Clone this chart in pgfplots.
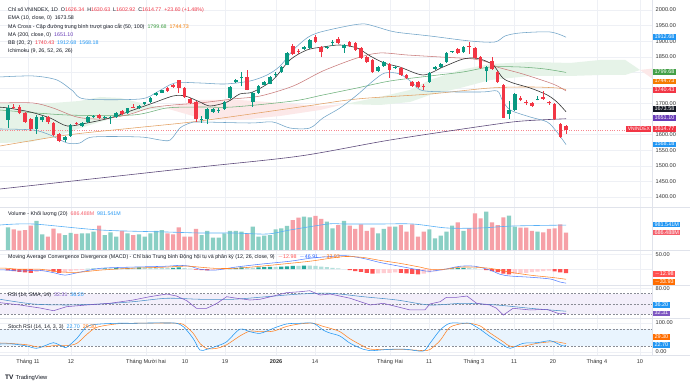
\documentclass[border=0pt]{standalone}
\usepackage{fontspec}
\setmainfont{Liberation Sans}
\usepackage{pgfplots}
\pgfplotsset{compat=1.18}
\usepackage{pgfplotstable}

\definecolor{tvgreen}{HTML}{089981}
\definecolor{tvred}{HTML}{F23645}
\definecolor{tvblue}{HTML}{2196F3}
\definecolor{tvorange}{HTML}{FF6D00}
\definecolor{tvpurple}{HTML}{7E57C2}
\definecolor{volg}{HTML}{8ACFC4}
\definecolor{volr}{HTML}{F6A0A7}
\definecolor{hdg}{HTML}{26A69A}
\definecolor{hlg}{HTML}{B2DFDB}
\definecolor{hdr}{HTML}{FF5252}
\definecolor{hlr}{HTML}{FFCDD2}
\definecolor{emac}{HTML}{333333}
\definecolor{bbband}{HTML}{6FA3C7}
\definecolor{bbbasis}{HTML}{C97B7B}
\definecolor{ma50}{HTML}{6DB07A}
\definecolor{ma100}{HTML}{E3A062}
\definecolor{ma200}{HTML}{5E4B7B}
\definecolor{ma50t}{HTML}{43A047}
\definecolor{ma100t}{HTML}{F57C00}
\definecolor{ma200t}{HTML}{673AB7}
\definecolor{cloudg}{HTML}{E6F3E8}
\definecolor{cloudr}{HTML}{FCE8E8}
\definecolor{gridc}{HTML}{EEF0F5}
\definecolor{sepc}{HTML}{E0E3EB}
\definecolor{axtext}{HTML}{333333}
\definecolor{txt}{HTML}{131722}
\definecolor{rsibg}{HTML}{F3EFFA}
\definecolor{stbg}{HTML}{E9F4FE}
\definecolor{macdb}{HTML}{2962FF}
\definecolor{rsima}{HTML}{4A90C8}
\definecolor{dashc}{HTML}{8A8D96}

% green candles: index open high low close volume(M)
\pgfplotstableread{
i o h l c v
0 1647 1695 1621 1686 894
5 1618 1662 1602 1657 1139
6 1648 1660 1640 1657 624
10 1583 1596 1578 1593 598
11 1596 1635 1594 1631 676
13 1628 1640 1625 1638 663
14 1641 1659 1639 1657 663
15 1657 1664 1652 1660 727
17 1655 1660 1650 1658 598
18 1652 1660 1635 1656 701
19 1657 1673 1655 1671 534
21 1669 1687 1667 1685 663
23 1685 1694 1683 1692 624
24 1698 1706 1696 1704 534
25 1705 1721 1703 1719 663
26 1727 1736 1724 1734 753
27 1735 1744 1733 1742 791
34 1648 1660 1638 1651 598
35 1650 1685 1634 1682 753
36 1673 1684 1670 1682 495
37 1677 1686 1670 1680 495
38 1682 1708 1680 1705 663
39 1717 1756 1715 1753 753
40 1768 1779 1765 1774 753
41 1782 1800 1755 1785 727
43 1705 1736 1689 1734 920
44 1734 1758 1732 1756 534
45 1760 1771 1758 1769 573
46 1763 1787 1761 1785 598
47 1790 1800 1785 1795 817
48 1801 1819 1799 1817 856
49 1824 1864 1822 1862 946
52 1876 1884 1872 1880 1306
53 1878 1906 1876 1904 1280
56 1878 1884 1876 1881 1113
57 1895 1905 1885 1898 856
59 1878 1890 1862 1888 1139
65 1804 1819 1802 1817 663
66 1820 1835 1818 1833 830
68 1814 1819 1812 1817 920
74 1769 1800 1767 1798 817
75 1811 1819 1809 1817 470
76 1817 1829 1815 1827 573
77 1833 1864 1831 1862 727
78 1865 1870 1863 1868 959
80 1865 1883 1863 1881 753
84 1804 1819 1769 1817 1499
88 1667 1708 1650 1679 1344
89 1679 1733 1677 1731 920
93 1713 1724 1710 1716 727
}\gtab

% red candles
\pgfplotstableread{
i o h l c v
1 1690 1700 1683 1686 817
2 1689 1695 1665 1670 766
3 1670 1672 1638 1641 791
4 1650 1653 1612 1618 959
7 1657 1660 1635 1641 534
8 1638 1641 1595 1599 843
9 1602 1604 1575 1580 663
12 1637 1642 1630 1633 637
16 1663 1666 1650 1652 959
20 1676 1678 1663 1666 753
22 1689 1700 1684 1686 598
28 1749 1752 1738 1740 663
29 1758 1762 1750 1754 624
30 1774 1776 1734 1750 894
31 1750 1752 1718 1721 534
32 1715 1717 1699 1702 534
33 1705 1707 1641 1650 830
42 1784 1808 1742 1744 663
50 1884 1892 1855 1859 1177
51 1870 1875 1860 1865 1267
54 1913 1920 1895 1897 1332
55 1881 1883 1849 1865 1216
58 1907 1912 1892 1894 984
60 1897 1899 1882 1884 959
61 1894 1896 1870 1872 830
62 1878 1880 1843 1846 1010
63 1849 1851 1830 1833 753
64 1840 1842 1798 1801 881
67 1827 1829 1782 1807 920
69 1814 1816 1789 1792 984
70 1792 1794 1780 1782 727
71 1769 1771 1754 1756 1010
72 1769 1771 1751 1753 534
73 1757 1762 1744 1754 727
79 1875 1878 1860 1862 1087
81 1884 1897 1859 1881 856
82 1878 1880 1844 1846 1435
83 1849 1851 1812 1814 1242
85 1836 1849 1809 1811 1087
86 1801 1803 1767 1769 984
87 1759 1761 1652 1654 1280
90 1718 1724 1707 1711 881
91 1705 1711 1695 1702 881
92 1702 1704 1690 1692 753
94 1721 1740 1712 1714 701
95 1705 1708 1696 1702 830
96 1699 1701 1648 1650 856
97 1634 1636 1589 1591.17 1010
98 1626.34 1630.63 1602.92 1614.77 686.488
}\rtab

\pgfplotsset{
  tvpane/.style={
    scale only axis, width=652pt, xmin=-1.405, xmax=113.1,
    anchor=north west,
    axis line style={draw=none}, major tick length=0pt,
    xtick={3.51,11.06,24.24,31.09,38.11,47.07,53.92,67.09,73.94,81.84,88.87,95.71,103.44,110.99},
    xticklabels={},
    xmajorgrids, ymajorgrids,
    grid style={color=gridc, line width=0.4pt},
    yticklabel pos=right,
    yticklabel style={anchor=west, inner sep=0pt, xshift=3.5pt,
      font=\fontsize{5.6}{6}\selectfont, text=axtext},
    xticklabel style={anchor=north, inner sep=0pt, yshift=-4.3pt,
      font=\fontsize{5.6}{6}\selectfont, text=axtext},
  },
}
\tikzset{
  tvbox/.style={anchor=west, inner xsep=1.3pt, inner ysep=0pt, text height=4.3pt, text depth=1.3pt,
    font=\fontsize{5.5}{6}\selectfont, text=white},
  leg/.style={anchor=west, inner sep=0pt, font=\fontsize{5.3}{6}\selectfont, text=txt},
}

\begin{document}
\begin{tikzpicture}
\fill[white] (0pt,0pt) rectangle (690pt,-385pt);

% ================= MAIN PRICE PANE =================
\begin{axis}[tvpane, at={(0pt,0pt)}, height=207pt,
  ymin=1368, ymax=2032,
  ytick={1400,1450,1500,1550,1600,1650,1700,1750,1800,1850,1900,1950,2000},
  yticklabels={1400.00,1450.00,1500.00,1550.00,1600.00,,1700.00,,,1850.00,1900.00,1950.00,2000.00}]
% Ichimoku cloud
\addplot[fill=cloudg, draw=none] coordinates {(-1.4,1701.7)(5.6,1698.4)(12.6,1708.1)(16.2,1720.9)(19.7,1717.7)(24.1,1698.4)(27.6,1685.6)(24.1,1679.2)(19.7,1660.0)(14.4,1631.1)(9.1,1599.0)(3.9,1576.5)(-1.4,1573.3)} -- cycle;
\addplot[fill=cloudr, draw=none] coordinates {(27.6,1685.6)(33.7,1711.3)(40.7,1711.3)(47.8,1701.7)(54.8,1692.0)(59.2,1698.4)(54.8,1679.2)(47.8,1660.0)(40.7,1647.1)(33.7,1653.5)} -- cycle;
\addplot[fill=cloudg, draw=none] coordinates {(59.2,1698.4)(65.3,1720.9)(70.6,1743.4)(74.1,1775.4)(79.4,1807.5)(84.7,1826.8)(91.7,1833.2)(98.7,1830.0)(104,1839.6)(108.4,1839.6)(111,1807.5)(108.4,1791.5)(104,1791.5)(98.7,1788.3)(91.7,1788.3)(84.7,1775.4)(79.4,1749.8)(74.1,1727.3)(70.6,1704.9)(65.3,1695.2)} -- cycle;
\addplot[fill=cloudr, draw=none] coordinates {(111,1807.5)(114,1813.9)(114,1769.0)} -- cycle;
% price line
\addplot[tvred!60, dotted, line width=0.4pt] coordinates {(-1.405,1614.77)(113.1,1614.77)};
% MA200
\addplot[ma200, line width=0.6pt, smooth] coordinates {(-1.4,1425.8)(16.2,1461.1)(33.7,1496.4)(51.3,1531.6)(67.1,1582.9)(84.7,1631.1)(90.4,1643.9)(98,1651.10)};
% MA100
\addplot[ma100, line width=0.55pt, smooth] coordinates {(-1.4,1563.7)(10.4,1599.0)(22,1621.4)(33.7,1643.9)(51.3,1688.8)(61.3,1714.5)(74.1,1730.5)(84.7,1749.8)(91.7,1753.0)(96.4,1749.8)(98,1744.73)};
% MA50
\addplot[ma50, line width=0.55pt, smooth] coordinates {(-1.4,1679.2)(10.4,1663.2)(22,1663.2)(27.9,1685.6)(33.7,1688.8)(39.5,1688.8)(50.1,1708.1)(55.3,1727.3)(61.3,1749.8)(67.1,1772.2)(74.1,1788.3)(79.9,1801.1)(84.7,1817.1)(89.9,1817.1)(94.3,1810.7)(98,1799.68)};
% BB basis
\addplot[bbbasis, line width=0.55pt, smooth] coordinates {(-1.4,1701.7)(4.4,1701.7)(7.9,1685.6)(12.1,1656.7)(16.2,1650.3)(20.9,1663.2)(24.9,1685.6)(29,1695.2)(33.7,1701.7)(39.5,1714.5)(44.3,1724.1)(50.1,1756.2)(55.3,1804.3)(61.3,1846.0)(65.3,1862.1)(70.1,1855.6)(75.9,1849.2)(81.7,1842.8)(84.7,1829.9)(85.9,1817.1)(90.4,1794.7)(95.7,1762.6)(98,1740.43)};
% BB upper
\addplot[bbband, line width=0.55pt, smooth] coordinates {(-1.4,1785.1)(4.4,1788.3)(8.6,1775.4)(11.4,1740.2)(13.5,1714.5)(23.2,1714.5)(26.2,1736.9)(29.3,1765.8)(33.7,1765.8)(38.1,1762.6)(42.5,1772.2)(45.5,1791.5)(47.8,1820.4)(50.1,1871.7)(52.5,1910.2)(54.3,1926.2)(57.1,1939.0)(60.6,1951.9)(62.7,1955.1)(64.8,1945.5)(68,1929.4)(74.1,1916.6)(81.1,1900.6)(85.5,1897.3)(87.3,1916.6)(89.9,1926.2)(95.2,1929.4)(98,1912.68)};
% BB lower
\addplot[bbband, line width=0.55pt, smooth] coordinates {(-1.4,1618.2)(4.4,1615.0)(7.4,1599.0)(10.4,1573.3)(12.6,1573.3)(14.9,1592.6)(23.2,1592.6)(26.7,1583.0)(28.5,1583.0)(30.2,1621.4)(32,1637.5)(33.7,1640.7)(42.5,1637.5)(46.5,1640.7)(49.5,1621.4)(53,1621.4)(55.3,1653.5)(58.3,1685.6)(61.3,1727.3)(64.1,1772.2)(66.2,1797.9)(68.8,1794.7)(71.1,1765.8)(73.2,1740.2)(82.9,1736.9)(85.9,1740.2)(86.8,1711.3)(88.2,1679.2)(91.7,1656.7)(94.7,1640.7)(96.4,1608.6)(98,1568.18)};
% EMA 10
\addplot[emac, line width=0.6pt, smooth] coordinates {(-1.4,1688)(0,1685.6)(3.9,1672.8)(7.4,1653.5)(10.4,1627.9)(13.9,1637.5)(17.9,1653.5)(22,1679.2)(25.5,1701.7)(29,1724.1)(31.1,1724.1)(33.7,1704.9)(35.5,1692.0)(38.5,1704.9)(40.7,1730.5)(43,1736.9)(46.5,1775.4)(49.5,1839.6)(52.5,1871.7)(55.3,1881.3)(58.3,1887.7)(61.3,1878.1)(63.6,1852.4)(66.2,1829.0)(68.8,1817.1)(72.9,1791.5)(76.4,1817.1)(79.4,1839.6)(81.1,1846.0)(82.9,1842.8)(85.2,1823.6)(86.9,1781.9)(88.7,1765.8)(91.7,1749.8)(94.7,1727.3)(96.4,1704.9)(98,1673.58)};
% candles
\addplot[tvgreen, line width=0.7pt, quiver={u=0, v=\thisrow{h}-\thisrow{l}}] table[x=i, y=l] {\gtab};
\addplot[tvgreen, line width=3.6pt, quiver={u=0, v=\thisrow{c}-\thisrow{o}}] table[x=i, y=o] {\gtab};
\addplot[tvred, line width=0.7pt, quiver={u=0, v=\thisrow{h}-\thisrow{l}}] table[x=i, y=l] {\rtab};
\addplot[tvred, line width=3.6pt, quiver={u=0, v=\thisrow{c}-\thisrow{o}}] table[x=i, y=o] {\rtab};
\end{axis}

% ================= VOLUME PANE =================
\begin{axis}[tvpane, at={(0pt,-207pt)}, height=43.5pt, ymin=0, ymax=1679, ytick=\empty]
\addplot[ybar, bar width=4.2pt, bar shift=0pt, fill=volg, draw=none] table[x=i, y=v] {\gtab};
\addplot[ybar, bar width=4.2pt, bar shift=0pt, fill=volr, draw=none] table[x=i, y=v] {\rtab};
\addplot[tvblue!75, line width=0.6pt, smooth] coordinates {(-1.4,984)(4.4,1023)(16.2,791)(27.9,714)(33.7,676)(39.5,676)(45.5,637)(49.5,791)(56.2,1023)(59.2,1023)(65.3,1023)(71.1,1023)(77.1,869)(82.9,869)(88.7,946)(98,981.541)};
\end{axis}

% ================= MACD PANE =================
\begin{axis}[tvpane, at={(0pt,-250.5pt)}, height=34.5pt, ymin=-53.3, ymax=63.3,
  ytick={0,50}, yticklabels={,50.00}]
\addplot[ybar, bar width=4.2pt, bar shift=0pt, fill=hdr, draw=none] coordinates {(0,-4)(1,-6)(2,-9)(3,-11)(4,-12)(8,-8)(9,-12)(33,-1)(34,-3)(35,-4)(60,-3)(61,-6)(62,-9)(63,-12)(64,-15)(69,-12)(70,-14)(71,-16)(72,-17)(84,-3)(85,-6)(86,-10)(87,-15)(88,-17)(96,-7)(97,-11)(98,-12.98)};
\addplot[ybar, bar width=4.2pt, bar shift=0pt, fill=hlr, draw=none] coordinates {(5,-9)(6,-6)(7,-5)(10,-11)(11,-7)(12,-4)(13,-2)(36,-3)(37,-2)(38,-1)(65,-14)(66,-13)(67,-12)(68,-11)(73,-15)(74,-11)(75,-7)(76,-4)(89,-16)(90,-14)(91,-12)(92,-10)(93,-8)(94,-6)(95,-5)};
\addplot[ybar, bar width=4.2pt, bar shift=0pt, fill=hdg, draw=none] coordinates {(14,1)(15,2)(17,3)(19,4)(21,5)(23,6)(29,5)(30,6)(39,2)(40,4)(41,6)(44,6)(45,7)(46,8)(48,9)(49,10)(50,11)(52,12)(77,0.5)(78,3)(79,4)(80,5)};
\addplot[ybar, bar width=4.2pt, bar shift=0pt, fill=hlg, draw=none] coordinates {(16,2)(18,3)(20,4)(22,5)(24,6)(25,6)(26,5)(27,5)(28,4)(31,4)(32,2)(42,5)(43,5)(47,8)(51,11)(53,12)(54,11)(55,9)(56,7)(57,5)(58,3)(59,0.5)(81,5)(82,3)(83,0.5)};
\addplot[macdb!80, line width=0.55pt, smooth] coordinates {(-1.4,-2)(0,-3)(2.1,-6)(5.6,-4)(8.3,-13)(10,-20)(12.6,-10)(16.2,3)(21.4,7)(27.6,10)(30.2,13)(32,10)(33.7,0)(36.4,-3)(39.9,7)(44.3,17)(49.5,27)(53,37)(56.6,43)(59.2,46)(62.3,37)(65.3,23)(68.8,10)(72.4,-3)(74.1,-7)(76.7,0)(79.4,10)(82,10)(84.7,-3)(86.4,-17)(88.2,-23)(91.7,-27)(95.2,-33)(96.9,-43)(98,-46.91)};
\addplot[tvorange!85, line width=0.55pt, smooth] coordinates {(-1.4,4)(0,3)(2.1,0)(5.6,0)(8.3,-7)(10,-10)(12.6,-10)(16.2,-3)(21.4,3)(27.6,7)(30.2,10)(32,10)(33.7,7)(36.4,3)(39.9,3)(44.3,10)(49.5,20)(53,27)(56.6,37)(59.2,43)(62.3,40)(65.3,30)(68.8,20)(72.4,7)(74.1,0)(76.7,0)(79.4,7)(82,7)(84.7,3)(86.4,-3)(88.2,-10)(91.7,-20)(95.2,-27)(96.9,-31)(98,-33.93)};
\end{axis}

% ================= RSI PANE =================
\begin{axis}[tvpane, at={(0pt,-285pt)}, height=33pt, ymin=23.3, ymax=86.2,
  ytick={80}, yticklabels={80.00}]
\addplot[fill=rsibg, draw=none] coordinates {(-1.405,30)(113.1,30)(113.1,70)(-1.405,70)} -- cycle;
\addplot[dashc, dash pattern=on 2pt off 1.5pt, line width=0.35pt] coordinates {(-1.405,70)(113.1,70)};
\addplot[dashc, dash pattern=on 2pt off 1.5pt, line width=0.35pt] coordinates {(-1.405,50)(113.1,50)};
\addplot[dashc, dash pattern=on 2pt off 1.5pt, line width=0.35pt] coordinates {(-1.405,30)(113.1,30)};
\addplot[rsima, line width=0.55pt, smooth] coordinates {(-1.4,59)(4.4,50)(10.3,48.1)(16.2,50)(22,54.4)(27.9,60.9)(33.7,59)(39.5,59)(45.4,63.9)(51.3,69)(56.6,70.4)(62.4,63.9)(68.3,57.6)(74.1,48.1)(79.9,51.3)(85.8,48.1)(91.7,41.8)(98,36.2)};
\addplot[tvpurple, line width=0.55pt] coordinates {(-1.4,52.5)(2.1,48.1)(5.6,42.4)(8,37.2)(10.3,44.9)(13.8,48.1)(17.9,51.3)(22,57.6)(24.9,63.9)(27.9,69)(29.6,65.2)(31.4,56.3)(33.1,41.8)(34.9,41.8)(36.7,51.3)(38.4,63.9)(40.2,60.9)(42.5,57.6)(44.3,59)(46.6,65.2)(48.9,71.5)(51.3,73.4)(53,75.3)(54.8,67.1)(56.6,69)(60.1,60.9)(63.6,48.1)(65.9,51.3)(68.3,44.9)(70.6,38.6)(73.2,38.6)(74.1,50)(75.9,54.4)(77,62.8)(78.8,62.8)(80.6,65.2)(82.3,51.3)(84.6,48.1)(85.8,41.8)(87,29)(88.7,41.8)(91.7,38.6)(94.6,39.9)(96.9,31)(98,32.31)};
\end{axis}

% ================= STOCH RSI PANE =================
\begin{axis}[tvpane, at={(0pt,-318pt)}, height=37pt, ymin=-10.3, ymax=117.2,
  ytick={0,100}, yticklabels={0.00,100.00},
  xticklabels={Tháng 11,12,Tháng Mười hai,10,19,\textbf{2026},14,Tháng Hai,11,Tháng 3,11,20,Tháng 4,10}]
\addplot[fill=stbg, draw=none] coordinates {(-1.405,20)(113.1,20)(113.1,80)(-1.405,80)} -- cycle;
\addplot[dashc, dash pattern=on 2pt off 1.5pt, line width=0.35pt] coordinates {(-1.405,80)(113.1,80)};
\addplot[dashc, dash pattern=on 2pt off 1.5pt, line width=0.35pt] coordinates {(-1.405,20)(113.1,20)};
\addplot[tvorange!85, line width=0.55pt, smooth] coordinates {(-1.4,31)(0,30)(3.3,25)(5,18)(6.8,18)(8,22)(10.3,22)(12.1,30)(13.8,60)(15.6,85)(19.1,97)(22,99)(27.9,100)(29.6,99)(30.8,95)(32.5,65)(33.7,30)(34.9,12)(36.7,13)(38.4,25)(40.7,55)(42.5,72)(44.3,70)(46.6,72)(48.9,88)(51.3,97)(53.6,99)(55.4,88)(56.6,81.7)(58.3,70)(60.1,45)(62.4,20)(63.6,10)(67.1,8)(70,8)(72.9,5)(74.1,8.6)(75.9,40)(77.6,85)(80,99)(81.1,99)(82.9,90)(84.7,65)(87,35)(88.2,20)(90.5,20)(92.9,30)(95.2,35)(96.4,35)(97.5,31)(98,29.3)};
\addplot[tvblue, line width=0.55pt, smooth] coordinates {(-1.4,27.6)(0.9,27.6)(3.3,20.7)(5,12.8)(6.8,24.1)(8,32.1)(9.7,18.3)(10.3,16.2)(12.1,47.2)(13.8,87.2)(15.6,95.5)(19.1,99)(22,99)(24.9,100)(27.9,100)(29.6,99)(30.8,87.2)(32.5,47.2)(33.7,6.9)(34.9,9.3)(36.7,20.7)(38.4,35.5)(40.7,78.3)(42.5,70)(44.3,64.5)(46.6,81.7)(48.9,96.6)(51.3,99)(53.6,99)(55.4,75)(56.6,65)(58.3,55)(60.1,30)(62.4,9.3)(63.6,4.5)(67.1,9.3)(70,9.3)(72.9,3.4)(74.1,30)(75.9,75.9)(77.6,99)(80,99)(81.1,99)(82.9,78.3)(84.7,52.8)(87,24.1)(88.2,12.8)(90.5,30)(92.9,32.1)(95.2,39)(96.4,30)(97.5,20.7)(98,22.7)};
\end{axis}

% ================= separators =================
\foreach \yy in {207,250.5,285,318,355.5} {
  \draw[sepc, line width=0.5pt] (0pt,-\yy pt) -- (690pt,-\yy pt);
}
\draw[sepc, line width=0.5pt] (652pt,0pt) -- (652pt,-355.5pt);

% ================= legends =================
\node[leg] at (8pt,-10pt) {Chỉ số VNINDEX, 1D\hspace{3pt}O{\color{tvred}1626.34}\hspace{3pt}H{\color{tvred}1630.63}\hspace{3pt}L{\color{tvred}1602.92}\hspace{3pt}C{\color{tvred}1614.77}\hspace{3pt}{\color{tvred}+23.60 (+1.48\%)}};
\node[leg] at (8pt,-18.3pt) {EMA (10, close, 0)\hspace{3pt}1673.58};
\node[leg] at (8pt,-26.5pt) {MA Cross - Cặp đường trung bình trượt giao cắt (50, 100)\hspace{3pt}{\color{ma50t}1799.68}\hspace{3pt}{\color{ma100t}1744.73}};
\node[leg] at (8pt,-34.7pt) {MA (200, close, 0)\hspace{3pt}{\color{ma200t}1651.10}};
\node[leg] at (8pt,-42.9pt) {BB (20, 2)\hspace{3pt}{\color{tvred}1740.43}\hspace{3pt}{\color{tvblue}1912.68}\hspace{3pt}{\color{tvblue}1568.18}};
\node[leg] at (8pt,-51.1pt) {Ichimoku (9, 26, 52, 26, 26)};

\node[leg] at (8pt,-214.5pt) {Volume - Khối lượng (20)\hspace{3pt}{\color{tvred!80}686.488M}\hspace{3pt}{\color{tvblue}981.541M}};
\node[leg] at (8pt,-257pt) {Moving Average Convergence Divergence (MACD) - Chỉ báo Trung bình Động hội tụ và phân kỳ (12, 26, close, 9)\hspace{3pt}{\color{hdr}$-$12.98}\hspace{3pt}{\color{macdb}$-$46.91}\hspace{3pt}{\color{tvorange}$-$33.93}};
\node[leg] at (8pt,-295pt) {RSI (14, SMA, 14)\hspace{3pt}{\color{tvpurple}32.31}\hspace{3pt}{\color{tvblue}36.20}};
\node[leg] at (8pt,-327.5pt) {Stoch RSI (14, 14, 3, 3)\hspace{3pt}{\color{tvblue}22.70}\hspace{3pt}{\color{tvorange}29.30}};

% ================= price scale boxes =================
\node[tvbox, fill=tvblue] at (653pt,-37pt) {1912.68};
\node[tvbox, fill=ma50t] at (653pt,-72pt) {1799.68};
\node[tvbox, fill=ma100t] at (653pt,-81.5pt) {1744.73};
\node[tvbox, fill=tvred] at (653pt,-90pt) {1740.43};
\node[tvbox, fill=txt] at (653pt,-109pt) {1673.58};
\node[tvbox, fill=ma200t] at (653pt,-117.8pt) {1651.10};
\node[tvbox, fill=tvred] at (653pt,-129pt) {1614.77};
\node[tvbox, fill=tvred, anchor=east, font=\fontsize{5}{6}\selectfont] at (651.5pt,-129pt) {VNINDEX};
\node[tvbox, fill=tvblue] at (653pt,-144.5pt) {1568.18};

\node[tvbox, fill=tvblue] at (653pt,-224.5pt) {981.541M};
\node[tvbox, fill=tvred!80] at (653pt,-232.5pt) {686.488M};

\node[tvbox, fill=hdr] at (653pt,-274pt) {$-$12.98};
\node[tvbox, fill=tvorange] at (653pt,-281.8pt) {$-$33.93};

\node[tvbox, fill=tvblue] at (653pt,-305pt) {36.20};
\node[tvbox, fill=tvpurple] at (653pt,-313.3pt) {32.31};

\node[tvbox, fill=tvorange] at (653pt,-336.8pt) {29.30};
\node[tvbox, fill=tvblue] at (653pt,-345pt) {22.70};

% TradingView logo text
\node[anchor=west, inner sep=0pt, font=\fontsize{5.8}{6}\selectfont, text=txt] at (5pt,-377.5pt) {{\bfseries\fontsize{6.5}{7}\selectfont TV}\hspace{2pt}TradingView};

\pgfresetboundingbox
\path[use as bounding box] (0pt,0pt) rectangle (690pt,-385pt);
\end{tikzpicture}
\end{document}
